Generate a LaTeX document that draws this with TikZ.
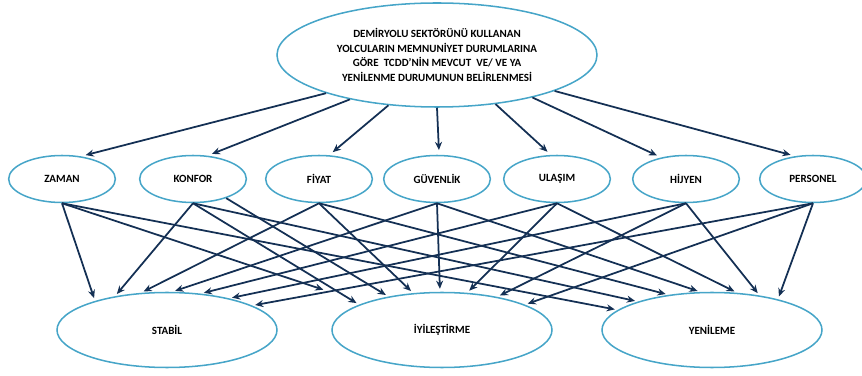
\documentclass[tikz,border=0pt]{standalone}
\usepackage{fontspec}
\setmainfont{Carlito}
\usetikzlibrary{shapes.geometric,arrows.meta}

\definecolor{rimBlue}{RGB}{70,165,200}
\definecolor{arrowNavy}{RGB}{20,48,84}

\def \lineWidth {1.5pt}

\begin{document}
\begin{tikzpicture}[x=0.03cm, y=-0.03cm,
    bubble/.style={ellipse, draw=rimBlue, line width=1.3pt, inner sep=0pt,
      font=\fontsize{9.4}{12.3}\selectfont\bfseries, align=center},
    topic/.style={bubble, minimum width=3.2cm, minimum height=1.41cm},
    result/.style={bubble, minimum width=6.6cm, minimum height=2.25cm},
    link/.style={draw=arrowNavy, line width=\lineWidth,
      -{Stealth[length=7pt,width=6pt]}, shorten >=2.5pt}]
      \useasboundingbox (0,0) rectangle (862,376);

      % goal
      \node[bubble, minimum width=9.6cm, minimum height=3.12cm] (goal) at (437,55)
        {DEMİRYOLU SEKTÖRÜNÜ KULLANAN\\YOLCULARIN MEMNUNİYET DURUMLARINA\\
         GÖRE\ \ TCDD’NİN MEVCUT\ \ VE/ VE YA\\YENİLENME DURUMUNUN BELİRLENMESİ};

      % criteria
      \node[topic] (zaman)    at (62,179)  {ZAMAN};
      \node[topic] (konfor)   at (193,179) {KONFOR};
      \node[topic] (fiyat)    at (319,179) {FİYAT};
      \node[topic] (guvenlik) at (437,179) {GÜVENLİK};
      \node[topic] (ulasim)   at (557,179) {ULAŞIM};
      \node[topic] (hijyen)   at (686,179) {HİJYEN};
      \node[topic] (personel) at (813,179) {PERSONEL};

      % alternatives
      \node[result] (stabil)      at (167,330) {STABİL};
      \node[result] (iyilestirme) at (442,330) {İYİLEŞTİRME};
      \node[result] (yenileme)    at (712,330) {YENİLEME};

      % goal -> criteria
      \foreach \src/\dst/\to in {199/zaman/50, 207/konfor/58, 226/fiyat/67,
          270/guvenlik/85, 320/ulasim/104, 336/hijyen/139, 343/personel/128}
        \draw[link, shorten >=4pt] (goal.\src) -- (\dst.\to);

      % criteria -> alternatives
      \foreach \src/\dst/\to in {
          zaman/stabil/158, konfor/stabil/147, fiyat/stabil/125,
          guvenlik/stabil/82, ulasim/stabil/47, hijyen/stabil/27, personel/stabil/16,
          konfor/iyilestirme/163, fiyat/iyilestirme/128, guvenlik/iyilestirme/93,
          ulasim/iyilestirme/56, hijyen/iyilestirme/31, personel/iyilestirme/17,
          zaman/yenileme/168, konfor/yenileme/159, fiyat/yenileme/141,
          guvenlik/yenileme/107, ulasim/yenileme/56, hijyen/yenileme/36,
          personel/yenileme/25}
        \draw[link] (\src.south) -- (\dst.\to);
      \draw[link, shorten >=1.27cm] (zaman.south) -- (iyilestirme.161);
      \draw[link] (konfor.330) -- (iyilestirme.148);
\end{tikzpicture}
\end{document}
